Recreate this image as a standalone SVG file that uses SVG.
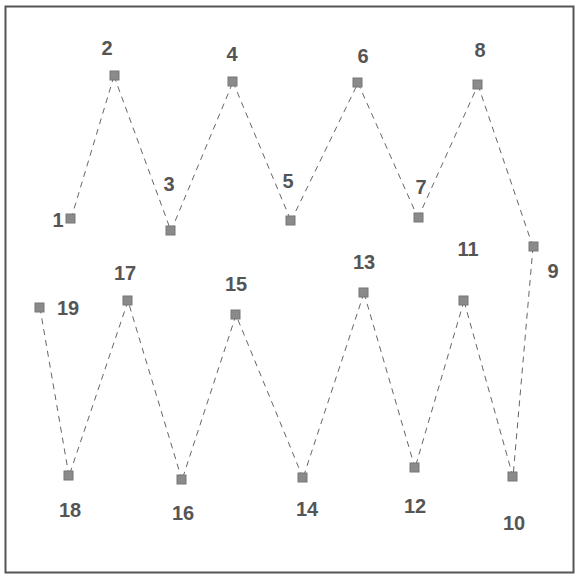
<svg xmlns="http://www.w3.org/2000/svg" width="576" height="575" viewBox="0 0 576 575">
<style>
.n rect{fill:#8a8a8a;stroke:#777;stroke-width:1}
.n text{font-family:"Liberation Sans",Arial,sans-serif;font-size:20px;font-weight:bold;fill:#555;text-anchor:middle}
.c line{stroke:#666;stroke-width:1;stroke-dasharray:6 5;fill:none}
</style>
<rect x="5.5" y="6.5" width="568" height="566" fill="#fff" stroke="#555" stroke-width="2"/>
<g id="connectors" class="c">
<line x1="71" y1="219" x2="114" y2="76"/>
<line x1="114" y1="76" x2="171" y2="231"/>
<line x1="171" y1="231" x2="233" y2="82"/>
<line x1="233" y1="82" x2="291" y2="221"/>
<line x1="291" y1="221" x2="358" y2="83"/>
<line x1="358" y1="83" x2="418" y2="218"/>
<line x1="418" y1="218" x2="478" y2="85"/>
<line x1="478" y1="85" x2="533" y2="247"/>
<line x1="533" y1="247" x2="513" y2="477"/>
<line x1="513" y1="477" x2="464" y2="301"/>
<line x1="464" y1="301" x2="415" y2="468"/>
<line x1="415" y1="468" x2="364" y2="293"/>
<line x1="364" y1="293" x2="303" y2="478"/>
<line x1="303" y1="478" x2="236" y2="315"/>
<line x1="236" y1="315" x2="182" y2="480"/>
<line x1="182" y1="480" x2="128" y2="301"/>
<line x1="128" y1="301" x2="69" y2="476"/>
<line x1="69" y1="476" x2="40" y2="308"/>
</g>
<g id="n1" class="n"><rect x="66" y="214" width="9" height="9"/><text x="58" y="227">1</text></g>
<g id="n2" class="n"><rect x="110" y="71" width="9" height="9"/><text x="107" y="55">2</text></g>
<g id="n3" class="n"><rect x="166" y="226" width="9" height="9"/><text x="169" y="191">3</text></g>
<g id="n4" class="n"><rect x="228" y="77" width="9" height="9"/><text x="232" y="61">4</text></g>
<g id="n5" class="n"><rect x="286" y="216" width="9" height="9"/><text x="288" y="188">5</text></g>
<g id="n6" class="n"><rect x="353" y="78" width="9" height="9"/><text x="363" y="63">6</text></g>
<g id="n7" class="n"><rect x="414" y="213" width="9" height="9"/><text x="421" y="194">7</text></g>
<g id="n8" class="n"><rect x="473" y="80" width="9" height="9"/><text x="480" y="57">8</text></g>
<g id="n9" class="n"><rect x="529" y="242" width="9" height="9"/><text x="553" y="278">9</text></g>
<g id="n10" class="n"><rect x="508" y="472" width="9" height="9"/><text x="514" y="530">10</text></g>
<g id="n11" class="n"><rect x="459" y="296" width="9" height="9"/><text x="468" y="256">11</text></g>
<g id="n12" class="n"><rect x="410" y="463" width="9" height="9"/><text x="415" y="513">12</text></g>
<g id="n13" class="n"><rect x="359" y="288" width="9" height="9"/><text x="364" y="269">13</text></g>
<g id="n14" class="n"><rect x="298" y="473" width="9" height="9"/><text x="307" y="516">14</text></g>
<g id="n15" class="n"><rect x="231" y="310" width="9" height="9"/><text x="236" y="291">15</text></g>
<g id="n16" class="n"><rect x="177" y="475" width="9" height="9"/><text x="183" y="520">16</text></g>
<g id="n17" class="n"><rect x="123" y="296" width="9" height="9"/><text x="125" y="280">17</text></g>
<g id="n18" class="n"><rect x="64" y="471" width="9" height="9"/><text x="70" y="517">18</text></g>
<g id="n19" class="n"><rect x="35" y="303" width="9" height="9"/><text x="68" y="315">19</text></g>
</svg>
